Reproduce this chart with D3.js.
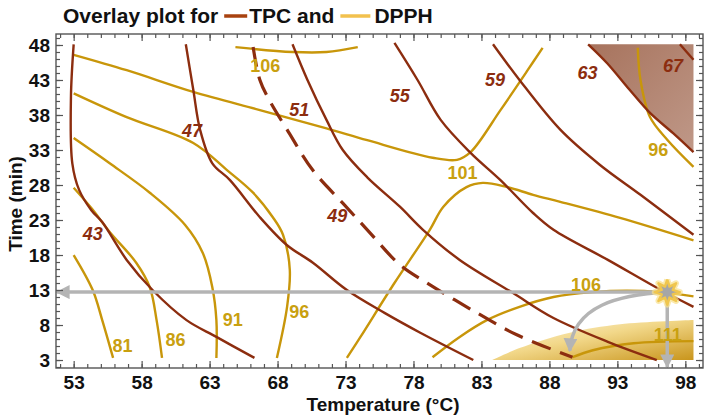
<!DOCTYPE html>
<html>
<head>
<meta charset="utf-8">
<script src="https://cdn.jsdelivr.net/npm/d3@7"></script>
<style>
  body { margin: 0; background: #fff; }
  text { font-family: "Liberation Sans", Arial, sans-serif; font-weight: bold; }
</style>
</head>
<body>
<svg id="chart" width="714" height="420"></svg>
<script>
// contour lines, [temperature, time]
var tpc43 = [[53.0,48.1],[52.8,40.6],[52.9,31.1],[53.4,27.3],[54.3,24.4],[55.1,22.7],[56.9,17.3],[58.8,13.0],[61.3,8.7],[63.5,6.3],[66.3,3.3]];
var tpc47 = [[61.25,48.1],[61.8,41.6],[62.3,35.9],[63.2,31.1],[64.5,28.7],[66.7,23.4],[68.7,19.4],[70.6,16.9],[73.1,13.0],[75.9,9.7],[78.5,6.9],[82.4,3.0]];
var tpc49 = [[66.2,47.7],[66.7,43.0],[67.4,40.1],[68.7,35.9],[70.6,30.1],[72.8,25.4],[74.6,21.6],[77.0,16.6],[79.0,14.0],[82.7,9.7],[85.6,6.6],[89.7,3.4]];
var tpc51 = [[69.1,48.1],[70.2,43.0],[71.6,37.3],[72.8,33.0],[74.6,29.1],[77.0,24.9],[78.7,21.6],[81.4,17.3],[85.3,12.6],[88.3,9.0],[92.3,5.6],[95.9,3.0]];
var tpc55 = [[76.6,48.3],[78.3,43.0],[80.0,37.3],[82.2,32.6],[84.4,28.7],[86.8,24.0],[88.3,21.6],[92.3,17.3],[96.2,13.0],[98.6,10.6]];
var tpc59 = [[83.85,48.1],[85.8,43.0],[88.8,35.9],[91.7,30.9],[94.7,26.6],[98.6,20.9]];
var tpc63 = [[90.85,48.1],[92.25,45.4],[93.9,41.6],[95.4,38.3],[97.1,35.4],[98.6,32.7]];
var tpc67 = [[97.6,48.1],[98.6,45.9]];

var dpph81 = [[53.0,18.0],[54.4,13.0],[55.1,8.7],[55.9,3.3]];
var dpph86 = [[53.0,27.6],[54.3,24.7],[55.65,21.3],[57.6,16.9],[58.6,13.4],[59.1,8.7],[59.5,3.3]];
var dpph91 = [[53.0,34.7],[55.65,31.1],[58.6,26.9],[61.2,22.3],[62.5,18.3],[63.2,13.4],[63.5,8.7],[63.5,3.3]];
var dpph96a = [[53.0,41.1],[56.9,37.7],[61.8,34.0],[64.3,30.1],[66.2,26.9],[67.65,23.4],[68.4,20.9],[68.9,15.9],[68.7,10.6],[67.95,3.3]];
var dpph96b = [[94.5,47.6],[94.7,43.0],[95.4,37.7],[96.7,34.4],[98.6,30.6]];
var dpph101a = [[53.0,46.6],[56.9,44.4],[61.8,41.3],[66.7,38.7],[71.6,36.1],[74.6,34.4],[79.4,31.9],[81.2,31.6],[82.2,32.7],[84.4,38.7],[86.4,44.4],[87.5,47.6]];
var dpph101b = [[73.1,3.3],[74.1,6.3],[76.6,14.0],[79.2,21.6],[80.2,24.9],[81.9,27.7],[83.1,28.3],[84.9,27.7],[86.8,26.6],[88.8,25.6],[93.2,23.3],[98.6,20.1]];
var dpph106a = [[64.9,47.7],[69.1,47.0],[71.6,47.0],[73.9,47.7]];
var dpph106b = [[79.4,3.4],[81.4,6.3],[83.4,8.7],[85.8,10.6],[88.3,12.0],[91.2,12.7],[93.7,12.9],[96.2,12.7],[98.6,12.1]];
var dpph111 = [[89.7,3.4],[91.2,4.4],[94.2,5.4],[98.6,5.7]];

// shaded optimum zones: curved edge, then the straight corner points
var tpcEdge = tpc63, tpcCorners = [[98.6,48.1]];
var dpphEdge = [[83.8,3.0],[85.8,4.7],[89.5,6.9],[93.2,8.1],[98.6,8.7]], dpphCorners = [[98.6,3.0]];

// contour labels [text, temperature, time]
var tpcLabels = [["43",54.4,21.1],["47",61.7,35.7],["49",72.4,23.6],["51",69.6,38.7],["55",77.0,40.7],["59",84.0,43.0],["63",90.8,44.0],["67",97.1,45.1]];
var dpphLabels = [["81",56.6,5.0],["86",60.5,5.9],["91",64.7,8.7],["96",69.6,9.9],["96",96.0,33.0],["101",81.6,29.7],["106",67.1,45.1],["106",90.7,13.7],["111",96.7,6.6]];

// optimum point and arrow to the 111 zone
var optimum = [96.67, 12.7];
var curveArrow = [[96.67,12.7],[93.2,12.3],[89.7,10.9],[89.5,4.3]];

var xTicks = [53,58,63,68,73,78,83,88,93,98];
var yTicks = [3,8,13,18,23,28,33,38,43,48];

var brown = "#8c2d0f", gold = "#c8960a", goldText = "#c9a010", grey = "#b4b4b4";

var svg = d3.select("#chart");
var x = d3.scaleLinear().domain([51.7, 99.3]).range([56, 703]);
var y = d3.scaleLinear().domain([1.86, 49.57]).range([368, 34]);

var defs = svg.append("defs");
defs.append("clipPath").attr("id", "plotClip")
  .append("rect").attr("x", 56).attr("y", 34).attr("width", 647).attr("height", 334);

var gb = defs.append("linearGradient").attr("id", "brownFill")
  .attr("x1", 0).attr("y1", 0).attr("x2", 1).attr("y2", 1);
gb.append("stop").attr("offset", 0).attr("stop-color", "#a7735d");
gb.append("stop").attr("offset", 1).attr("stop-color", "#bf9888");

var gy = defs.append("linearGradient").attr("id", "goldFill")
  .attr("x1", 0).attr("y1", 0).attr("x2", 1).attr("y2", 1);
gy.append("stop").attr("offset", 0).attr("stop-color", "#fdf5e0");
gy.append("stop").attr("offset", 0.45).attr("stop-color", "#f2d88a");
gy.append("stop").attr("offset", 1).attr("stop-color", "#c9951c");

defs.append("marker").attr("id", "arrowHead")
  .attr("viewBox", "0 0 10 10").attr("refX", 9).attr("refY", 5)
  .attr("markerWidth", 4).attr("markerHeight", 4).attr("orient", "auto")
  .append("path").attr("d", "M0,0L10,5L0,10z").attr("fill", grey);

var line = d3.line().x(d => x(d[0])).y(d => y(d[1])).curve(d3.curveCatmullRom.alpha(0.5));

function zone(edge, corners) {
  return line(edge) + corners.map(d => "L" + x(d[0]) + "," + y(d[1])).join("") + "Z";
}

var plot = svg.append("g").attr("clip-path", "url(#plotClip)");

// shaded regions
plot.append("path").attr("d", zone(tpcEdge, tpcCorners)).attr("fill", "url(#brownFill)");
plot.append("path").attr("d", zone(dpphEdge, dpphCorners)).attr("fill", "url(#goldFill)");

// DPPH contours
[dpph81, dpph86, dpph91, dpph96a, dpph96b, dpph101a, dpph101b, dpph106a, dpph106b, dpph111].forEach(function (c) {
  plot.append("path").attr("d", line(c)).attr("fill", "none")
    .attr("stroke", gold).attr("stroke-width", 2.4);
});

// TPC contours
[tpc43, tpc47, tpc51, tpc55, tpc59, tpc63, tpc67].forEach(function (c) {
  plot.append("path").attr("d", line(c)).attr("fill", "none")
    .attr("stroke", brown).attr("stroke-width", 2.4);
});
plot.append("path").attr("d", line(tpc49)).attr("fill", "none")
  .attr("stroke", brown).attr("stroke-width", 3.2).attr("stroke-dasharray", "20,10");

// arrows from the optimum
var ox = x(optimum[0]), oy = y(optimum[1]);
plot.append("line").attr("x1", ox).attr("y1", oy).attr("x2", x.range()[0] + 1).attr("y2", oy)
  .attr("stroke", grey).attr("stroke-width", 3.5).attr("marker-end", "url(#arrowHead)");
plot.append("line").attr("x1", ox).attr("y1", oy).attr("x2", ox).attr("y2", y.range()[0] - 1)
  .attr("stroke", grey).attr("stroke-width", 3.5).attr("marker-end", "url(#arrowHead)");
var cp = curveArrow.map(d => [x(d[0]), y(d[1])]);
plot.append("path")
  .attr("d", "M" + cp[0] + "C" + cp[1] + " " + cp[2] + " " + cp[3])
  .attr("fill", "none").attr("stroke", grey).attr("stroke-width", 3.5)
  .attr("marker-end", "url(#arrowHead)");

// star with a soft yellow halo
var starPts = d3.range(17).map(i => [i * Math.PI / 8, i % 2 ? 6 : 12.5]);
var star = d3.lineRadial().angle(d => d[0]).radius(d => d[1]);
plot.append("path").attr("d", star(starPts)).attr("transform", "translate(" + ox + "," + oy + ")")
  .attr("fill", "none").attr("stroke", "#f8e08a").attr("stroke-width", 6).attr("stroke-linejoin", "round").attr("opacity", 0.7);
plot.append("path").attr("d", star(starPts)).attr("transform", "translate(" + ox + "," + oy + ")")
  .attr("fill", "#a6a6a6").attr("stroke", "#f0c64e").attr("stroke-width", 2.5).attr("stroke-linejoin", "round");

// labels
plot.selectAll(".tpcLab").data(tpcLabels).enter().append("text")
  .attr("x", d => x(d[1])).attr("y", d => y(d[2])).attr("dy", "0.35em")
  .attr("text-anchor", "middle").style("font-style", "italic").style("font-size", "18px")
  .attr("fill", brown).text(d => d[0]);
plot.selectAll(".dpLab").data(dpphLabels).enter().append("text")
  .attr("x", d => x(d[1])).attr("y", d => y(d[2])).attr("dy", "0.35em")
  .attr("text-anchor", "middle").style("font-size", "18px")
  .attr("fill", goldText).text(d => d[0]);

// axes, ticks inside on all sides
function styleAxis(g) {
  g.select(".domain").remove();
  g.selectAll("line").attr("stroke", "#555").attr("stroke-width", 1.2);
  g.selectAll("text").style("font-size", "19px").attr("fill", "#111")
    .style("font-family", "'Liberation Sans', Arial, sans-serif");
}
var xMinor = d3.range(52, 100), yMinor = d3.range(2, 50);
svg.append("g").attr("transform", "translate(0,368)")
  .call(d3.axisBottom(x).tickValues(xTicks).tickSize(-7).tickPadding(8)).call(styleAxis);
svg.append("g").attr("transform", "translate(0,368)")
  .call(d3.axisBottom(x).tickValues(xMinor).tickSize(-4).tickFormat("")).call(styleAxis);
svg.append("g").attr("transform", "translate(0,34)")
  .call(d3.axisTop(x).tickValues(xTicks).tickSize(-7).tickFormat("")).call(styleAxis);
svg.append("g").attr("transform", "translate(0,34)")
  .call(d3.axisTop(x).tickValues(xMinor).tickSize(-4).tickFormat("")).call(styleAxis);
svg.append("g").attr("transform", "translate(56,0)")
  .call(d3.axisLeft(y).tickValues(yTicks).tickSize(-7).tickPadding(6)).call(styleAxis);
svg.append("g").attr("transform", "translate(56,0)")
  .call(d3.axisLeft(y).tickValues(yMinor).tickSize(-4).tickFormat("")).call(styleAxis);
svg.append("g").attr("transform", "translate(703,0)")
  .call(d3.axisRight(y).tickValues(yTicks).tickSize(-7).tickFormat("")).call(styleAxis);
svg.append("g").attr("transform", "translate(703,0)")
  .call(d3.axisRight(y).tickValues(yMinor).tickSize(-4).tickFormat("")).call(styleAxis);

svg.append("rect").attr("x", 56).attr("y", 34).attr("width", 647).attr("height", 334)
  .attr("fill", "none").attr("stroke", "#555").attr("stroke-width", 1.4);

// axis titles
svg.append("text").attr("x", 383).attr("y", 411).attr("text-anchor", "middle")
  .style("font-size", "19px").attr("fill", "#111").text("Temperature (°C)");
svg.append("text").attr("transform", "translate(22,204) rotate(-90)").attr("text-anchor", "middle")
  .style("font-size", "19px").attr("fill", "#111").text("Time (min)");

// title with inline legend
var tx = 63;
var t1 = svg.append("text").attr("x", tx).attr("y", 23).style("font-size", "21px").attr("fill", "#111").text("Overlay plot for");
tx += t1.node().getComputedTextLength() + 6;
svg.append("line").attr("x1", tx).attr("x2", tx + 23).attr("y1", 16).attr("y2", 16)
  .attr("stroke", "#a8420f").attr("stroke-width", 3.5);
tx += 25;
var t2 = svg.append("text").attr("x", tx).attr("y", 23).style("font-size", "21px").attr("fill", "#111").text("TPC and");
tx += t2.node().getComputedTextLength() + 6;
svg.append("line").attr("x1", tx).attr("x2", tx + 30).attr("y1", 16).attr("y2", 16)
  .attr("stroke", "#f2c14e").attr("stroke-width", 3.5);
tx += 34;
svg.append("text").attr("x", tx).attr("y", 23).style("font-size", "21px").attr("fill", "#111").text("DPPH");
</script>
</body>
</html>
